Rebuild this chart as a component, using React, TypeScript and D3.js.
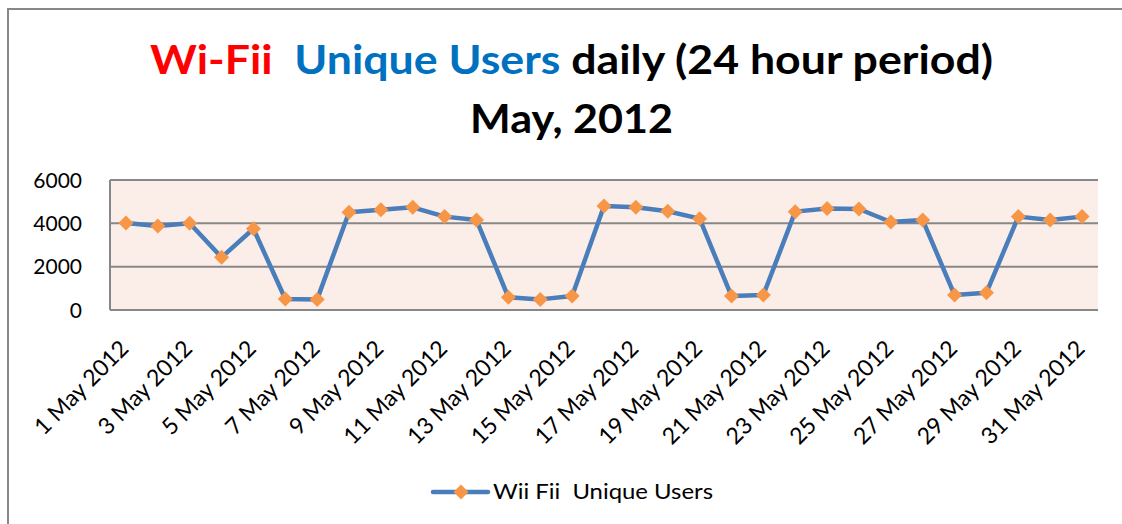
import React from 'react';
import * as d3 from 'd3';

const days = d3.range(1, 32).map(d => `${d} May 2012`);
const users = [
  4020, 3880, 4000, 2430, 3750, 510, 490, 4510, 4630, 4740,
  4310, 4150, 585, 490, 645, 4800, 4740, 4555, 4215, 645,
  690, 4540, 4680, 4660, 4060, 4150, 690, 800, 4310, 4150, 4310,
];
const yTicks = [0, 2000, 4000, 6000];
const seriesName = 'Wii Fii\u00a0 Unique Users';

const W = 1122;
const H = 524;
const plot = { left: 110, right: 1098, top: 180, bottom: 310 };
const font = 'Lato, "Open Sans", sans-serif';

export default function App() {
  const x = d3.scaleBand().domain(days).range([plot.left, plot.right]);
  const y = d3.scaleLinear().domain([0, 6000]).range([plot.bottom, plot.top]);
  const cx = (d: string) => (x(d) as number) + x.bandwidth() / 2;

  const line = d3
    .line<number>()
    .x((_, i) => cx(days[i]))
    .y(v => y(v));

  const diamond = (px: number, py: number, r = 7.5) =>
    `M${px},${py - r}L${px + r},${py}L${px},${py + r}L${px - r},${py}Z`;

  return (
    <svg
      width={W}
      height={H}
      style={{ position: 'absolute', left: 0, top: 0, background: '#fff' }}
    >
      {/* chart border */}
      <rect x={8} y={9} width={1130} height={540} fill="none" stroke="#888" strokeWidth={2} />

      {/* title */}
      <text
        x={150}
        y={74}
        fontFamily={font}
        fontWeight="bold"
        fontSize={40}
        textLength={843}
        lengthAdjust="spacingAndGlyphs"
      >
        <tspan fill="#ff0000">Wi-Fii</tspan>
        <tspan fill="#0070c0">{'\u00a0 Unique Users'}</tspan>
        <tspan fill="#000"> daily (24 hour period)</tspan>
      </text>
      <text
        x={470}
        y={133}
        fontFamily={font}
        fontWeight="bold"
        fontSize={40}
        textLength={203}
        lengthAdjust="spacingAndGlyphs"
      >
        May, 2012
      </text>

      {/* plot area */}
      <rect
        x={plot.left}
        y={plot.top}
        width={plot.right - plot.left}
        height={plot.bottom - plot.top}
        fill="#fbede8"
      />
      {yTicks.map(t => (
        <g key={t}>
          <line x1={plot.left} x2={plot.right} y1={y(t)} y2={y(t)} stroke="#878787" strokeWidth={2} />
          <text
            x={82}
            y={y(t)}
            dy="0.36em"
            textAnchor="end"
            fontFamily={font}
            fontSize={21}
            fill="#000"
          >
            {t}
          </text>
        </g>
      ))}
      <line x1={plot.left} x2={plot.left} y1={plot.top} y2={plot.bottom} stroke="#878787" strokeWidth={2} />

      {/* x labels */}
      {days.map((d, i) =>
        i % 2 === 0 ? (
          <text
            key={d}
            transform={`translate(${cx(d) + 4},${plot.bottom + 40}) rotate(-45)`}
            textAnchor="end"
            fontFamily={font}
            fontSize={23}
            fill="#000"
          >
            {d}
          </text>
        ) : null
      )}

      {/* series */}
      <path d={line(users) ?? ''} fill="none" stroke="#4a7ebb" strokeWidth={4.5} strokeLinejoin="round" />
      {users.map((v, i) => (
        <path key={i} d={diamond(cx(days[i]), y(v))} fill="#f79646" />
      ))}

      {/* legend */}
      <line x1={433} x2={488} y1={492} y2={492} stroke="#4a7ebb" strokeWidth={4.5} strokeLinecap="round" />
      <path d={diamond(461, 492)} fill="#f79646" />
      <text
        x={493}
        y={499}
        fontFamily={font}
        fontSize={22}
        fill="#000"
        textLength={220}
        lengthAdjust="spacingAndGlyphs"
      >
        {seriesName}
      </text>
    </svg>
  );
}
